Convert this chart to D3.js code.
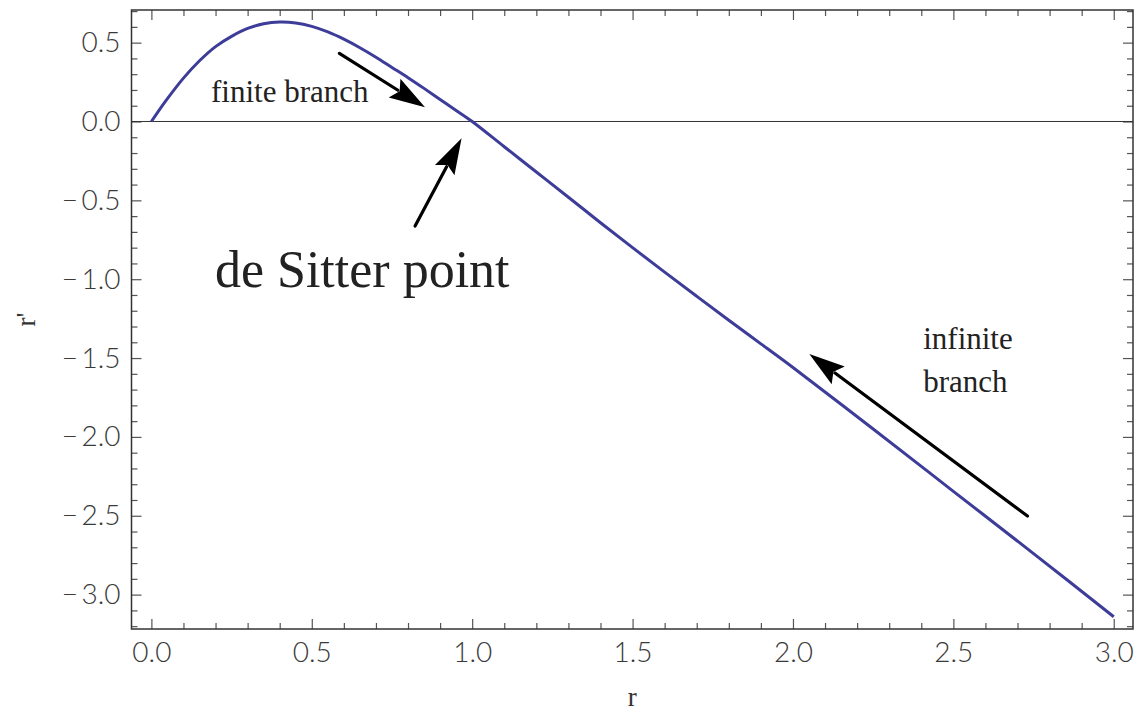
<!DOCTYPE html>
<html>
<head>
<meta charset="utf-8">
<script src="https://cdn.jsdelivr.net/npm/d3@7.9.0/dist/d3.min.js"></script>
<style>
  html, body { margin: 0; padding: 0; background: #fff; }
  svg { display: block; }
  .tick text { font-family: Lato, "Open Sans", sans-serif; font-weight: 300; font-size: 28px; fill: #3a3a3a; }
  .note { font-family: "Liberation Serif", "DejaVu Serif", serif; fill: #222; }
</style>
</head>
<body>
<svg id="chart" width="1137" height="715"></svg>
<script>
// --- curve values ---
const rVals = [0, 0.02, 0.05, 0.1, 0.15, 0.2, 0.25, 0.3, 0.35, 0.4, 0.45, 0.5, 0.55, 0.6, 0.65, 0.7,
  0.75, 0.8, 0.85, 0.9, 0.95, 1.0, 1.1, 1.2, 1.3, 1.4, 1.5, 1.6, 1.7, 1.8, 1.9, 2.0, 2.25, 2.5, 2.75, 3.0];
const rPrimeVals = [0, 0.06, 0.145, 0.275, 0.385, 0.475, 0.54, 0.59, 0.62, 0.631, 0.625, 0.603, 0.568, 0.522, 0.468, 0.408,
  0.343, 0.278, 0.21, 0.14, 0.07, 0, -0.16, -0.32, -0.48, -0.642, -0.80, -0.955, -1.108, -1.26, -1.41, -1.56, -1.95, -2.345, -2.74, -3.14];

const xMajor = [0, 0.5, 1.0, 1.5, 2.0, 2.5, 3.0];
const yMajor = [0.5, 0, -0.5, -1.0, -1.5, -2.0, -2.5, -3.0];

// annotation arrows: [fromR, fromRp, toR, toRp]
const arrows = [
  [0.586, 0.432, 0.853, 0.09],
  [0.822, -0.663, 0.967, -0.107],
  [2.731, -2.502, 2.051, -1.474]
];
const notes = [
  { text: 'finite branch', r: 0.186, rp: 0.124, size: 31 },
  { text: 'de Sitter point', r: 0.198, rp: -1.049, size: 52 },
  { text: 'infinite', r: 2.406, rp: -1.443, size: 31 },
  { text: 'branch', r: 2.406, rp: -1.715, size: 31 }
];

const svg = d3.select('#chart');
const fLeft = 131.5, fRight = 1133, fTop = 10, fBottom = 629;

const x = d3.scaleLinear().domain([-0.062, 3.06]).range([fLeft, fRight]);
const y = d3.scaleLinear().domain([-3.218, 0.707]).range([fBottom, fTop]);

const xMinor = d3.range(0, 3.01, 0.1).map(v => +v.toFixed(1)).filter(v => !xMajor.includes(v));
const yMinor = d3.range(-3.2, 0.71, 0.1).map(v => +v.toFixed(1)).filter(v => !yMajor.includes(v));

const fmt = d => (d < 0 ? '\u2212\u2009' : '') + Math.abs(d).toFixed(1);

function styleAxis(g) {
  g.select('.domain').remove();
  g.selectAll('.tick line').attr('stroke', '#555').attr('stroke-width', 1.2);
}

// bottom
svg.append('g').attr('transform', `translate(0,${fBottom})`)
  .call(d3.axisBottom(x).tickValues(xMajor).tickSize(-10).tickPadding(13).tickFormat(d => d.toFixed(1)))
  .call(styleAxis);
svg.append('g').attr('transform', `translate(0,${fBottom})`)
  .call(d3.axisBottom(x).tickValues(xMinor).tickSize(-6).tickFormat(''))
  .call(styleAxis);
// top
svg.append('g').attr('transform', `translate(0,${fTop})`)
  .call(d3.axisTop(x).tickValues(xMajor).tickSize(-10).tickFormat(''))
  .call(styleAxis);
svg.append('g').attr('transform', `translate(0,${fTop})`)
  .call(d3.axisTop(x).tickValues(xMinor).tickSize(-6).tickFormat(''))
  .call(styleAxis);
// left
svg.append('g').attr('transform', `translate(${fLeft},0)`)
  .call(d3.axisLeft(y).tickValues(yMajor).tickSize(-10).tickPadding(11).tickFormat(fmt))
  .call(styleAxis);
svg.append('g').attr('transform', `translate(${fLeft},0)`)
  .call(d3.axisLeft(y).tickValues(yMinor).tickSize(-6).tickFormat(''))
  .call(styleAxis);
// right
svg.append('g').attr('transform', `translate(${fRight},0)`)
  .call(d3.axisRight(y).tickValues(yMajor).tickSize(-10).tickFormat(''))
  .call(styleAxis);
svg.append('g').attr('transform', `translate(${fRight},0)`)
  .call(d3.axisRight(y).tickValues(yMinor).tickSize(-6).tickFormat(''))
  .call(styleAxis);

// frame
svg.append('rect')
  .attr('x', fLeft).attr('y', fTop)
  .attr('width', fRight - fLeft).attr('height', fBottom - fTop)
  .attr('fill', 'none').attr('stroke', '#333').attr('stroke-width', 1.5);

// zero line
svg.append('line')
  .attr('x1', fLeft).attr('x2', fRight)
  .attr('y1', y(0)).attr('y2', y(0))
  .attr('stroke', '#333').attr('stroke-width', 1);

// curve
const pts = rVals.map((r, i) => [r, rPrimeVals[i]]);
const line = d3.line().x(d => x(d[0])).y(d => y(d[1])).curve(d3.curveCatmullRom);
svg.append('path')
  .datum(pts)
  .attr('d', line)
  .attr('fill', 'none')
  .attr('stroke', '#3d3d99')
  .attr('stroke-width', 3);

// arrows
arrows.forEach(a => {
  const x1 = x(a[0]), y1 = y(a[1]), x2 = x(a[2]), y2 = y(a[3]);
  const ang = Math.atan2(y2 - y1, x2 - x1);
  const hl = 36, hw = 11;
  const bx = x2 - hl * Math.cos(ang), by = y2 - hl * Math.sin(ang);
  svg.append('line')
    .attr('x1', x1).attr('y1', y1).attr('x2', bx + 4 * Math.cos(ang)).attr('y2', by + 4 * Math.sin(ang))
    .attr('stroke', '#000').attr('stroke-width', 3.2).attr('stroke-linecap', 'round');
  const nx = -Math.sin(ang), ny = Math.cos(ang);
  svg.append('path')
    .attr('d', `M${x2},${y2}L${bx + hw * nx},${by + hw * ny}L${bx + 6 * Math.cos(ang)},${by + 6 * Math.sin(ang)}L${bx - hw * nx},${by - hw * ny}Z`)
    .attr('fill', '#000');
});

// annotation text
svg.selectAll('text.note')
  .data(notes)
  .enter()
  .append('text')
  .attr('class', 'note')
  .attr('x', d => x(d.r))
  .attr('y', d => y(d.rp))
  .style('font-size', d => d.size + 'px')
  .text(d => d.text);

// axis labels
svg.append('text')
  .attr('class', 'note')
  .attr('x', (fLeft + fRight) / 2).attr('y', 706)
  .attr('text-anchor', 'middle')
  .style('font-size', '27px').style('fill', '#333')
  .text('r');
svg.append('text')
  .attr('class', 'note')
  .attr('transform', `translate(35,${(fTop + fBottom) / 2}) rotate(-90)`)
  .attr('text-anchor', 'middle')
  .style('font-size', '27px').style('fill', '#333')
  .text("r'");
</script>
</body>
</html>
